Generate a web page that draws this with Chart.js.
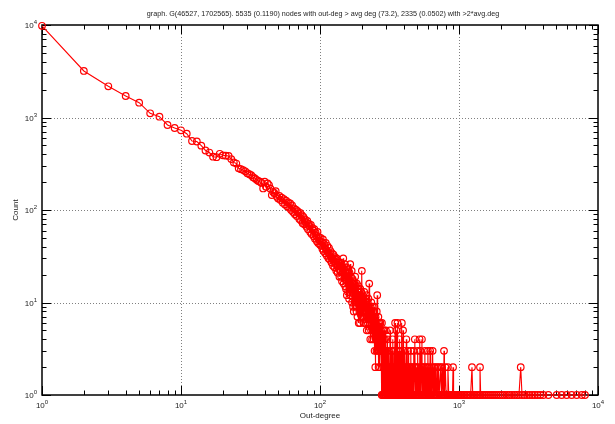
<!DOCTYPE html>
<html>
<head>
<meta charset="utf-8">
<script src="https://cdn.jsdelivr.net/npm/chart.js@4/dist/chart.umd.min.js"></script>
<style>
  html, body { margin: 0; padding: 0; background: #fff; }
  #wrap { width: 615px; height: 424px; }
</style>
</head>
<body>
<div id="wrap"><canvas id="myChart" width="615" height="424"></canvas></div>
<script>
// out-degree histogram: counts for degree 1..300 (one entry per degree)
const headCounts = [
  9800, 3185, 2175, 1708, 1446, 1110, 1020, 830, 770, 727,
  668, 557, 550, 496, 440, 418, 377, 372, 405, 390,
  387, 384, 355, 327, 318, 282, 276, 270, 262, 250,
  244, 238, 226, 220, 212, 206, 202, 196, 171, 202,
  178, 194, 186, 170, 145, 157, 152, 160, 139, 133,
  142, 128, 136, 120, 131, 115, 126, 110, 121, 106,
  118, 100, 112, 95, 104, 90, 101, 86, 97, 92,
  80, 93, 77, 88, 72, 84, 70, 79, 74, 66,
  76, 62, 71, 67, 58, 69, 55, 64, 60, 52,
  62, 49, 57, 53, 46, 58, 44, 51, 47, 42,
  50, 41, 45, 38, 48, 36, 43, 40, 34, 44,
  37, 32, 41, 35, 30, 39, 33, 29, 36, 31,
  27, 34, 30, 25, 33, 28, 24, 31, 26, 29,
  22, 30, 25, 21, 28, 23, 27, 19, 25, 22,
  27, 19, 26, 17, 24, 21, 30, 16, 23, 18,
  26, 15, 22, 14, 24, 12, 21, 19, 13, 23,
  18, 11, 21, 15, 26, 12, 19, 14, 22, 10,
  18, 13, 9, 17, 8, 14, 16, 10, 19, 9,
  15, 11, 8, 16, 12, 7, 14, 10, 15, 6,
  13, 8, 12, 6, 14, 9, 11, 13, 7, 22,
  10, 7, 12, 9, 11, 6, 10, 13, 8, 9,
  7, 11, 6, 10, 8, 12, 5, 9, 7, 10,
  6, 8, 11, 5, 9, 16, 7, 6, 8, 4,
  9, 7, 5, 10, 6, 8, 4, 7, 9, 5,
  6, 8, 4, 7, 5, 9, 3, 6, 5, 2,
  7, 4, 6, 5, 3, 8, 4, 12, 5, 3,
  6, 4, 7, 2, 5, 4, 6, 3, 5, 2,
  4, 6, 3, 4, 5, 3, 4, 1, 6, 3,
  1, 4, 3, 5, 2, 3, 1, 4, 2, 5,
  3, 1, 2, 4, 3, 1, 2, 5, 3, 1
];

// sparse tail, degree > 300 (only degrees that occur)
const tailDegrees = [
  302, 304, 305, 307, 309, 310, 312, 314, 316, 318, 319, 321, 323, 325, 327, 329,
  331, 333, 335, 337, 339, 341, 343, 345, 347, 349, 351, 353, 355, 357, 359, 361,
  363, 365, 367, 369, 371, 373, 375, 377, 379, 381, 383, 385, 388, 390, 392, 394,
  396, 398, 400,
  403, 406, 409, 412, 415, 418, 421, 424, 427, 430, 433, 436, 440, 443, 446, 450,
  453, 457, 460, 464, 467, 471, 474, 478, 481, 485, 488, 492, 496, 500, 504, 508,
  512, 516, 520, 524, 528, 532, 537, 541, 545, 550, 554, 559, 563, 568, 572, 577,
  582, 587, 592, 597,
  602, 608, 614, 620, 626, 632, 638, 646, 652, 659, 666, 673, 680, 688, 696, 704,
  712, 720, 729, 738, 747, 756, 765, 775, 780, 786, 797, 808, 820, 832, 844, 857,
  870, 884, 898, 906, 914, 930, 947, 964, 982,
  1003, 1025, 1048, 1072, 1097, 1124, 1152, 1181, 1212, 1240, 1256, 1290, 1325,
  1362, 1400, 1416, 1432, 1475, 1520, 1568, 1618, 1671, 1727, 1786, 1848, 1914,
  1984, 2058, 2137, 2220, 2309, 2403, 2503, 2609, 2700, 2780, 2840, 2960, 3085,
  3220, 3362, 3512, 3670, 3840, 4045, 4395, 5045, 5480, 5955, 6470, 7030, 7640, 8060
];
const tailCounts = [
  2, 1, 4, 1, 2, 1, 3, 1, 2, 1, 5, 1, 2, 1, 3, 1,
  2, 4, 1, 2, 1, 3, 1, 2, 6, 1, 2, 1, 5, 1, 2, 6,
  1, 3, 1, 2, 1, 4, 1, 2, 1, 3, 1, 2, 6, 1, 2, 1,
  5, 1, 2,
  1, 3, 1, 2, 1, 4, 1, 2, 1, 3, 1, 2, 1, 2, 1, 3,
  1, 2, 1, 2, 1, 3, 1, 2, 4, 1, 2, 1, 2, 1, 3, 1,
  2, 1, 4, 1, 3, 1, 2, 4, 1, 2, 1, 2, 1, 3, 1, 2,
  1, 2, 1, 3,
  1, 2, 1, 3, 1, 2, 1, 3, 1, 2, 1, 2, 1, 1, 2, 1,
  2, 1, 1, 2, 1, 2, 1, 1, 3, 1, 2, 1, 1, 2, 1, 1,
  1, 1, 1, 2, 1, 1, 1, 1, 1,
  1, 1, 1, 1, 1, 1, 1, 1, 1, 2, 1, 1, 1,
  1, 1, 2, 1, 1, 1, 1, 1, 1, 1, 1, 1, 1,
  1, 1, 1, 1, 1, 1, 1, 1, 1, 2, 1, 1, 1,
  1, 1, 1, 1, 1, 1, 1, 1, 1, 1, 1, 1, 1, 1
];

const decades = [1, 10, 100, 1000, 10000];
const titleText = 'graph. G(46527, 1702565). 5535 (0.1190) nodes with out-deg > avg deg (73.2), 2335 (0.0502) with >2*avg.deg';
const xTitle = 'Out-degree';
const yTitle = 'Count';

var pts = headCounts.map(function (c, i) { return { x: i + 1, y: c }; });
tailDegrees.forEach(function (d, i) { pts.push({ x: d, y: tailCounts[i] }); });

const FONT = '"Liberation Sans", Arial, Helvetica, sans-serif';

// gnuplot-like frame: dotted grid, inward ticks on all four sides, 10^n labels
const gnuFrame = {
  id: 'gnuFrame',
  beforeDatasetsDraw: function (chart) {
    const ctx = chart.ctx, a = chart.chartArea;
    const xs = chart.scales.x, ys = chart.scales.y;
    ctx.save();
    ctx.lineWidth = 1;
    ctx.strokeStyle = '#808080';
    ctx.setLineDash([1, 2]);
    decades.slice(1, -1).forEach(function (v) {
      var px = Math.round(xs.getPixelForValue(v)) + 0.5;
      ctx.beginPath(); ctx.moveTo(px, a.top); ctx.lineTo(px, a.bottom); ctx.stroke();
      var py = Math.round(ys.getPixelForValue(v)) + 0.5;
      ctx.beginPath(); ctx.moveTo(a.left, py); ctx.lineTo(a.right, py); ctx.stroke();
    });
    ctx.setLineDash([]);
    ctx.strokeStyle = '#000';
    decades.forEach(function (d) {
      for (var k = 1; k <= 9; k++) {
        var v = d * k;
        if (v > 10000) break;
        var len = (k === 1) ? 9 : 4.5;
        var px = Math.round(xs.getPixelForValue(v)) + 0.5;
        ctx.beginPath();
        ctx.moveTo(px, a.bottom); ctx.lineTo(px, a.bottom - len);
        ctx.moveTo(px, a.top); ctx.lineTo(px, a.top + len);
        ctx.stroke();
        var py = Math.round(ys.getPixelForValue(v)) + 0.5;
        ctx.beginPath();
        ctx.moveTo(a.left, py); ctx.lineTo(a.left + len, py);
        ctx.moveTo(a.right, py); ctx.lineTo(a.right - len, py);
        ctx.stroke();
      }
    });
    ctx.lineWidth = 1.5;
    ctx.strokeRect(a.left, a.top, a.right - a.left, a.bottom - a.top);
    ctx.restore();
  },
  afterDraw: function (chart) {
    const ctx = chart.ctx, a = chart.chartArea;
    const xs = chart.scales.x, ys = chart.scales.y;
    ctx.save();
    ctx.fillStyle = '#222';
    function pow10(exp, x, y, align) {
      ctx.font = '8px ' + FONT;
      var wb = ctx.measureText('10').width;
      ctx.font = '6px ' + FONT;
      var we = ctx.measureText(String(exp)).width;
      var left = align === 'right' ? x - wb - we : x - (wb + we) / 2;
      ctx.textAlign = 'left';
      ctx.textBaseline = 'alphabetic';
      ctx.font = '8px ' + FONT;
      ctx.fillText('10', left, y);
      ctx.font = '6px ' + FONT;
      ctx.fillText(String(exp), left + wb, y - 4);
    }
    decades.forEach(function (v, i) {
      pow10(i, xs.getPixelForValue(v), a.bottom + 13, 'center');
      pow10(i, a.left - 5, ys.getPixelForValue(v) + 3, 'right');
    });
    ctx.textAlign = 'center';
    ctx.textBaseline = 'alphabetic';
    ctx.font = '7.2px ' + FONT;
    ctx.fillText(titleText, 323, 16);
    ctx.font = '8px ' + FONT;
    ctx.fillText(xTitle, (a.left + a.right) / 2, 418);
    ctx.translate(18, (a.top + a.bottom) / 2);
    ctx.rotate(-Math.PI / 2);
    ctx.fillText(yTitle, 0, 0);
    ctx.restore();
  }
};

new Chart(document.getElementById('myChart'), {
  type: 'scatter',
  data: {
    datasets: [{
      data: pts,
      showLine: true,
      borderColor: '#ff0000',
      borderWidth: 1.1,
      pointRadius: 3.3,
      pointHoverRadius: 3.3,
      pointBorderWidth: 1.2,
      pointBorderColor: '#ff0000',
      pointBackgroundColor: 'rgba(0,0,0,0)',
      clip: false
    }]
  },
  options: {
    responsive: false,
    animation: false,
    events: [],
    layout: { padding: { left: 42, right: 17, top: 25, bottom: 29 } },
    plugins: { legend: { display: false }, tooltip: { enabled: false } },
    scales: {
      x: { type: 'logarithmic', min: 1, max: 10000, display: false },
      y: { type: 'logarithmic', min: 1, max: 10000, display: false }
    }
  },
  plugins: [gnuFrame]
});
</script>
</body>
</html>
